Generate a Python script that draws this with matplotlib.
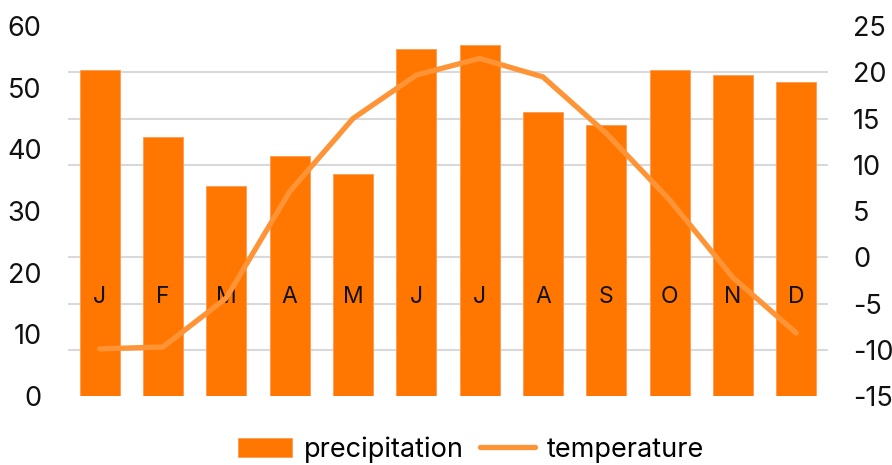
import matplotlib
matplotlib.use("Agg")
import matplotlib.pyplot as plt
from matplotlib.ticker import FixedLocator
import numpy as np

plt.rcParams['font.family'] = ['Inter', 'DejaVu Sans']
plt.rcParams['axes.unicode_minus'] = False

months = ["J", "F", "M", "A", "M", "J", "J", "A", "S", "O", "N", "D"]
precipitation = [52.9, 42.0, 34.0, 39.0, 36.0, 56.2, 57.0, 46.1, 44.0, 52.9, 52.0, 51.0]
temperature = [-9.9, -9.7, -4.4, 7.1, 15.0, 19.7, 21.5, 19.5, 13.4, 6.2, -2.2, -8.2]
precip_ticks = [0, 10, 20, 30, 40, 50, 60]
temp_ticks = [-15, -10, -5, 0, 5, 10, 15, 20, 25]

bar_color = "#FF7700"
line_color = "#FF9436"
grid_color = "#D9D9D9"

fig = plt.figure(figsize=(8.92, 4.65), dpi=100)
ax = fig.add_axes([0.0762, 0.1484, 0.852, 0.7956])
ax2 = ax.twinx()

x = np.arange(len(months))

# gridlines follow the temperature axis but sit behind the bars
p0, p1 = precip_ticks[0], precip_ticks[-1]
t0, t1 = temp_ticks[0], temp_ticks[-1]
grid_pos = [p0 + (t - t0) * (p1 - p0) / (t1 - t0) for t in temp_ticks]
ax.yaxis.set_minor_locator(FixedLocator(grid_pos))
ax.grid(which="minor", axis="y", color=grid_color, linewidth=1.5, zorder=0)
ax.set_axisbelow(True)

ax.bar(x, precipitation, width=0.63, color=bar_color, edgecolor="#FF9A50",
       linewidth=0.6, zorder=2, label="precipitation")
for i, m in enumerate(months):
    ax.text(x[i], 16.1, m, ha="center", va="center", fontsize=16.5, color="#111111", zorder=3)

ax.set_xlim(-0.5, len(months) - 0.5)
ax.set_ylim(p0, p1)
ax.set_yticks(precip_ticks)
ax.set_xticks([])
ax.tick_params(axis="y", which="both", length=0, labelsize=19.5, pad=19, colors="#111111")

ax2.plot(x, temperature, color=line_color, linewidth=3.8, solid_capstyle="round",
         solid_joinstyle="round", zorder=4, label="temperature")
ax2.set_ylim(t0, t1)
ax2.set_yticks(temp_ticks)
ax2.tick_params(axis="y", length=0, labelsize=19.5, pad=18, colors="#111111")

for a in (ax, ax2):
    for s in a.spines.values():
        s.set_visible(False)

h1, l1 = ax.get_legend_handles_labels()
h2, l2 = ax2.get_legend_handles_labels()
fig.legend(h1 + h2, l1 + l2, loc="lower center", bbox_to_anchor=(0.528, -0.048), ncol=2,
           frameon=False, fontsize=19.5, handlelength=2.0, handleheight=0.75,
           handletextpad=0.45, columnspacing=0.6)

fig.savefig("out.png", dpi=100)
